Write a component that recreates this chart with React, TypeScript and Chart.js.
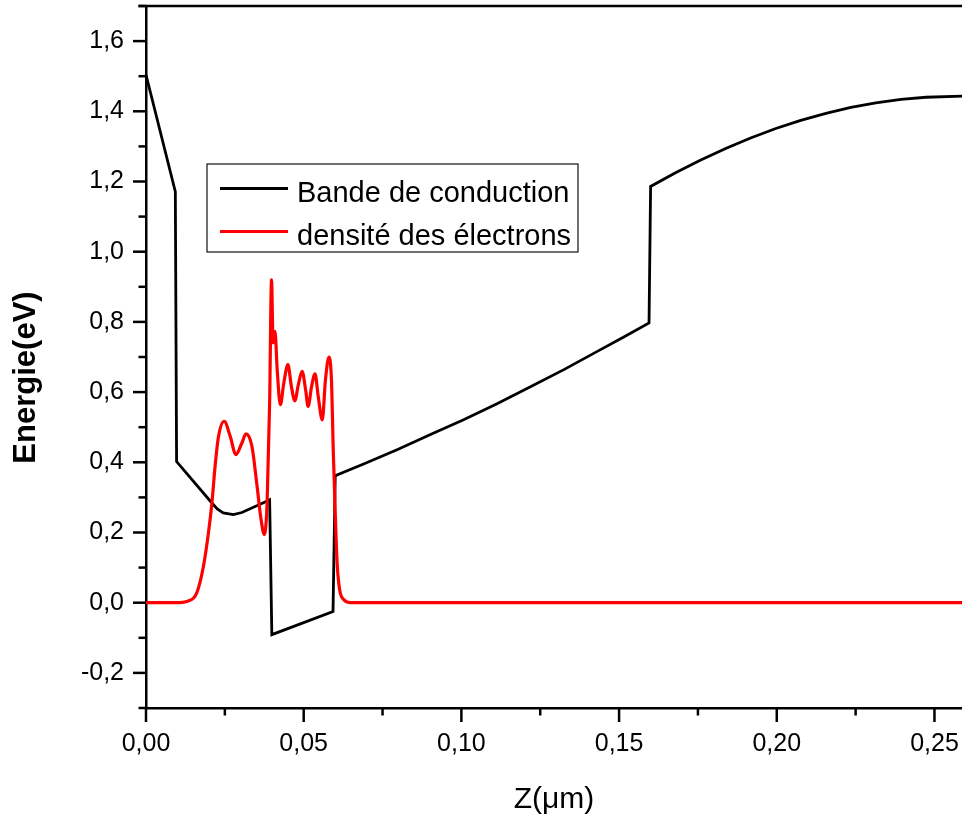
import React, { useEffect, useRef } from 'react';
import { Chart, registerables } from 'chart.js';

Chart.register(...registerables);

// ---- data ----
const bandX = [0, 0.0093, 0.0097, 0.0209, 0.0226, 0.0245, 0.0277, 0.0304, 0.0388, 0.0392, 0.0399, 0.0593, 0.0600, 0.0690, 0.0796, 0.0902, 0.1007, 0.1113, 0.1219, 0.1325, 0.1431, 0.1515, 0.1595, 0.1600, 0.1679, 0.1759, 0.1838, 0.1917, 0.1997, 0.2076, 0.2156, 0.2235, 0.2314, 0.2394, 0.2473, 0.2589, 0.2600];
const bandY = [1.504, 1.171, 0.402, 0.284, 0.267, 0.256, 0.251, 0.257, 0.291, 0.293, -0.091, -0.025, 0.362, 0.395, 0.436, 0.479, 0.521, 0.567, 0.615, 0.664, 0.716, 0.757, 0.797, 1.186, 1.225, 1.261, 1.294, 1.324, 1.351, 1.374, 1.394, 1.411, 1.424, 1.434, 1.440, 1.443, 1.443];

const densX = [0, 0.0092, 0.0134, 0.0161, 0.0182, 0.0198, 0.0209, 0.0219, 0.0230, 0.0248, 0.0267, 0.0285, 0.0304, 0.0317, 0.0336, 0.0351, 0.0365, 0.0375, 0.0384, 0.0392, 0.0398, 0.0403, 0.0409, 0.0416, 0.0426, 0.0437, 0.0450, 0.0461, 0.0472, 0.0483, 0.0495, 0.0506, 0.0514, 0.0525, 0.0536, 0.0546, 0.0559, 0.0569, 0.0580, 0.0588, 0.0594, 0.0599, 0.0606, 0.0614, 0.0627, 0.0649, 0.2600];
const densY = [0, 0, 0.005, 0.028, 0.103, 0.199, 0.284, 0.388, 0.474, 0.517, 0.474, 0.422, 0.455, 0.481, 0.445, 0.341, 0.236, 0.194, 0.284, 0.569, 0.920, 0.740, 0.773, 0.664, 0.564, 0.626, 0.678, 0.616, 0.575, 0.621, 0.659, 0.607, 0.559, 0.616, 0.652, 0.588, 0.521, 0.635, 0.700, 0.635, 0.426, 0.284, 0.113, 0.037, 0.009, 0, 0];

const seriesLabels = ['Bande de conduction', 'densité des électrons'];
const seriesColors = ['#000000', '#ff0000'];

const xMajorTicks = [0, 0.05, 0.10, 0.15, 0.20, 0.25];
const xMinorTicks = [0.025, 0.075, 0.125, 0.175, 0.225];
const yMajorTicks = [-0.2, 0, 0.2, 0.4, 0.6, 0.8, 1.0, 1.2, 1.4, 1.6];
const yMinorTicks = [-0.3, -0.1, 0.1, 0.3, 0.5, 0.7, 0.9, 1.1, 1.3, 1.5, 1.7];

const xTitle = 'Z(μm)';
const yTitle = 'Energie(eV)';

const FONT = '"Liberation Sans", Arial, sans-serif';

const decorPlugin = {
  id: 'decor',
  afterDraw(chart: any) {
    const { ctx, chartArea, scales } = chart;
    const xs = scales.x;
    const ys = scales.y;
    ctx.save();
    ctx.strokeStyle = '#000';
    ctx.lineWidth = 2.5;
    ctx.lineCap = 'butt';
    const seg = (x1: number, y1: number, x2: number, y2: number) => {
      ctx.beginPath();
      ctx.moveTo(x1, y1);
      ctx.lineTo(x2, y2);
      ctx.stroke();
    };
    yMajorTicks.forEach((v) => {
      const p = ys.getPixelForValue(v);
      seg(chartArea.left - 13, p, chartArea.left, p);
    });
    yMinorTicks.forEach((v) => {
      const p = ys.getPixelForValue(v);
      seg(chartArea.left - 7.5, p, chartArea.left, p);
    });
    xMajorTicks.forEach((v) => {
      const p = xs.getPixelForValue(v);
      seg(p, chartArea.bottom, p, chartArea.bottom + 14);
    });
    xMinorTicks.forEach((v) => {
      const p = xs.getPixelForValue(v);
      seg(p, chartArea.bottom, p, chartArea.bottom + 7.5);
    });
    // top frame
    const topP = ys.getPixelForValue(1.7);
    seg(chartArea.left - 7.5, topP, chart.width, topP);

    // axis titles
    ctx.fillStyle = '#000';
    ctx.font = `30px ${FONT}`;
    ctx.textAlign = 'center';
    ctx.textBaseline = 'alphabetic';
    ctx.fillText(xTitle, 554, 808);

    ctx.save();
    ctx.translate(35, 377.5);
    ctx.rotate(-Math.PI / 2);
    ctx.font = `bold 31px ${FONT}`;
    ctx.fillText(yTitle, 0, 0);
    ctx.restore();

    // legend
    const bx = 207, by = 164, bw = 371, bh = 88;
    ctx.fillStyle = '#fff';
    ctx.fillRect(bx, by, bw, bh);
    ctx.lineWidth = 1.3;
    ctx.strokeStyle = '#222';
    ctx.strokeRect(bx, by, bw, bh);
    const rows = [{ ly: 188.5, ty: 202 }, { ly: 231.5, ty: 244.5 }];
    chart.data.datasets.forEach((ds: any) => {
      const r = rows[ds.legendIndex];
      ctx.strokeStyle = ds.borderColor;
      ctx.lineWidth = 3;
      seg(220, r.ly, 288, r.ly);
      ctx.fillStyle = '#000';
      ctx.font = `29px ${FONT}`;
      ctx.textAlign = 'left';
      ctx.fillText(ds.label, 297, r.ty);
    });
    ctx.restore();
  },
};

export default function App() {
  const ref = useRef<HTMLCanvasElement | null>(null);
  useEffect(() => {
    if (!ref.current) return;
    const band = bandX.map((x, i) => ({ x, y: bandY[i] }));
    const dens = densX.map((x, i) => ({ x, y: densY[i] }));
    const chart = new Chart(ref.current, {
      type: 'line',
      data: {
        datasets: [
          {
            label: seriesLabels[0],
            data: band,
            borderColor: seriesColors[0],
            borderWidth: 2.8,
            pointRadius: 0,
            tension: 0,
            order: 1,
            legendIndex: 0,
          } as any,
          {
            label: seriesLabels[1],
            data: dens,
            borderColor: seriesColors[1],
            borderWidth: 3.2,
            pointRadius: 0,
            cubicInterpolationMode: 'monotone',
            order: 0,
            legendIndex: 1,
          } as any,
        ],
      },
      options: {
        responsive: false,
        animation: false,
        devicePixelRatio: 1,
        layout: { padding: { top: 6, left: 0, right: 0, bottom: 0 } },
        plugins: { legend: { display: false }, tooltip: { enabled: false } },
        scales: {
          x: {
            type: 'linear',
            min: 0,
            max: 0.26,
            grid: { display: false, drawTicks: false },
            border: { display: true, color: '#000', width: 2.5 },
            ticks: {
              autoSkip: false,
              maxRotation: 0,
              padding: 21,
              color: '#000',
              font: { family: FONT, size: 25 },
              callback: (v: any) => Number(v).toFixed(2).replace('.', ','),
            },
            afterBuildTicks: (s: any) => {
              s.ticks = xMajorTicks.map((value) => ({ value }));
            },
            afterFit: (s: any) => {
              s.height = 113;
              s.paddingLeft = 0;
              s.paddingRight = 0;
            },
          },
          y: {
            type: 'linear',
            min: -0.3,
            max: 1.7,
            grid: { display: false, drawTicks: false },
            border: { display: true, color: '#000', width: 2.5 },
            ticks: {
              autoSkip: false,
              padding: 22,
              color: '#000',
              font: { family: FONT, size: 25 },
              callback: (v: any) => Number(v).toFixed(1).replace('.', ','),
            },
            afterBuildTicks: (s: any) => {
              s.ticks = yMajorTicks.map((value) => ({ value }));
            },
            afterFit: (s: any) => {
              s.width = 146;
              s.paddingTop = 0;
              s.paddingBottom = 0;
            },
          },
        },
      } as any,
      plugins: [decorPlugin],
    });
    return () => chart.destroy();
  }, []);
  return (
    <div style={{ position: 'absolute', left: 0, top: 0, width: 962, height: 821, overflow: 'hidden', background: '#fff' }}>
      <canvas ref={ref} width={966} height={821} style={{ width: 966, height: 821, display: 'block' }} />
    </div>
  );
}
